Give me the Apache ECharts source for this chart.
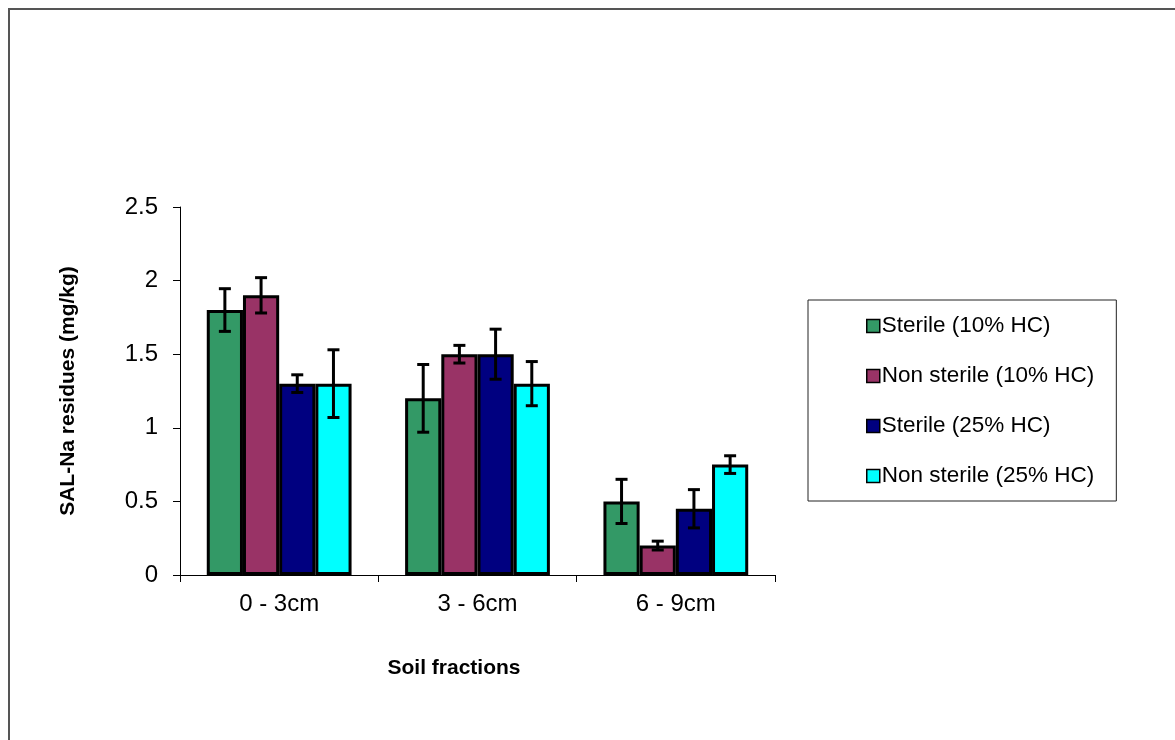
<!DOCTYPE html>
<html>
<head>
<meta charset="utf-8">
<script src="https://cdn.jsdelivr.net/npm/echarts@6/dist/echarts.min.js"></script>
<style>
html,body{margin:0;padding:0;background:#fff;}
#chart{width:1175px;height:740px;}
</style>
</head>
<body>
<div id="chart"></div>
<script>
const categories = ['0 - 3cm', '3 - 6cm', '6 - 9cm'];
const seriesNames = ['Sterile (10% HC)', 'Non sterile (10% HC)', 'Sterile (25% HC)', 'Non sterile (25% HC)'];
const sterile10 = [1.8, 1.2, 0.5];
const nonSterile10 = [1.9, 1.5, 0.2];
const sterile25 = [1.3, 1.5, 0.45];
const nonSterile25 = [1.3, 1.3, 0.75];
const errSterile10 = [0.145, 0.23, 0.15];
const errNonSterile10 = [0.12, 0.06, 0.03];
const errSterile25 = [0.06, 0.17, 0.13];
const errNonSterile25 = [0.23, 0.15, 0.06];
const colors = ['#339966', '#993366', '#000080', '#00FFFF'];

const values = [sterile10, nonSterile10, sterile25, nonSterile25];
const errors = [errSterile10, errNonSterile10, errSterile25, errNonSterile25];
const gapRatio = 0.27;
const nSeries = values.length;

const chart = echarts.init(document.getElementById('chart'));

const barSeries = values.map((v, i) => ({
  name: seriesNames[i],
  type: 'bar',
  data: v,
  barGap: '0%',
  barCategoryGap: '27%',
  itemStyle: { color: colors[i], borderColor: '#000', borderWidth: 3 },
  emphasis: { disabled: true },
  z: 2
}));

const errSeries = values.map((v, i) => ({
  type: 'custom',
  name: 'err' + i,
  data: v.map((val, j) => [j, val - errors[i][j], val + errors[i][j]]),
  z: 5,
  silent: true,
  renderItem: function (params, api) {
    const ci = api.value(0);
    const lo = api.coord([ci, api.value(1)]);
    const hi = api.coord([ci, api.value(2)]);
    const band = api.size([1, 0])[0];
    const groupW = band * (1 - gapRatio);
    const barW = groupW / nSeries;
    const x = lo[0] - groupW / 2 + (i + 0.5) * barW;
    const cap = 6;
    const style = { stroke: '#000', lineWidth: 3 };
    return {
      type: 'group',
      children: [
        { type: 'line', shape: { x1: x, y1: lo[1], x2: x, y2: hi[1] }, style: style },
        { type: 'line', shape: { x1: x - cap, y1: lo[1], x2: x + cap, y2: lo[1] }, style: style },
        { type: 'line', shape: { x1: x - cap, y1: hi[1], x2: x + cap, y2: hi[1] }, style: style }
      ]
    };
  }
}));

const font = 'Liberation Sans, Arial, sans-serif';

chart.setOption({
  animation: false,
  backgroundColor: '#fff',
  textStyle: { fontFamily: font },
  graphic: [{
    type: 'rect',
    shape: { x: 9, y: 9, width: 1300, height: 900 },
    style: { fill: 'none', stroke: '#555', lineWidth: 2 },
    z: 0
  }],
  grid: { left: 180, top: 207, width: 595, height: 368 },
  legend: {
    data: seriesNames,
    orient: 'vertical',
    left: 808,
    top: 300,
    padding: [14, 22, 13, 58],
    itemGap: 26,
    itemWidth: 13,
    itemHeight: 13,
    icon: 'rect',
    borderColor: '#222',
    borderWidth: 1,
    itemStyle: { borderColor: '#000', borderWidth: 1.5 },
    textStyle: { fontSize: 22.5, color: '#000', fontFamily: font, lineHeight: 24, padding: [0, 0, 0, -3] },
    selectedMode: false
  },
  xAxis: {
    type: 'category',
    data: categories,
    name: 'Soil fractions',
    nameLocation: 'middle',
    nameGap: 83,
    nameTextStyle: { fontSize: 21, fontWeight: 'bold', color: '#000', fontFamily: font, padding: [0, 47, 0, 0] },
    axisLine: { lineStyle: { color: '#000', width: 1 } },
    axisTick: { show: true, length: 7, lineStyle: { color: '#000' } },
    axisLabel: { fontSize: 24, color: '#000', margin: 17, fontFamily: font }
  },
  yAxis: {
    type: 'value',
    min: 0,
    max: 2.5,
    interval: 0.5,
    name: 'SAL-Na residues (mg/kg)',
    nameLocation: 'middle',
    nameGap: 101,
    nameTextStyle: { fontSize: 21, fontWeight: 'bold', color: '#000', fontFamily: font },
    axisLine: { show: true, lineStyle: { color: '#000', width: 1 } },
    axisTick: { show: true, length: 7, lineStyle: { color: '#000' } },
    splitLine: { show: false },
    axisLabel: { fontSize: 24, color: '#000', margin: 22, fontFamily: font }
  },
  series: barSeries.concat(errSeries)
});
</script>
</body>
</html>
